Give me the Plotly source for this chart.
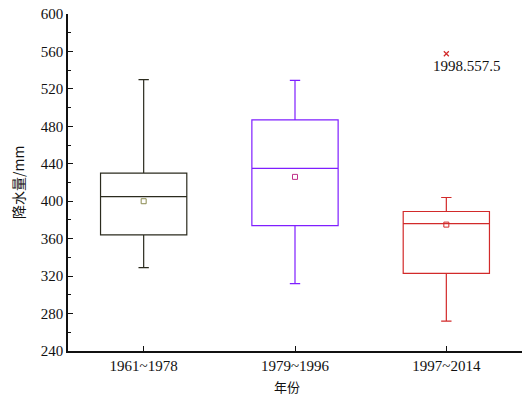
import plotly.graph_objects as go

categories = ["1961~1978", "1979~1996", "1997~2014"]
lower_whisker = [329, 312, 272]
q1_values = [364, 374, 323]
median_values = [405, 435, 376]
q3_values = [430, 487, 389]
upper_whisker = [530, 529, 404]
mean_values = [400, 426, 375]
outlier_category = ["1997~2014"]
outlier_values = [557.5]
outlier_label = "1998.557.5"

box_colors = ["#2b2b1e", "#7f1fff", "#d22a2a"]
mean_colors = ["#8a8a50", "#c0308a", "#d22a2a"]

serif = "Liberation Serif"
cjk = "Noto Sans CJK SC"

# page body has a default 8px margin, so the figure is placed at (8, 8)
fig = go.Figure()
for i, cat in enumerate(categories):
    fig.add_trace(go.Box(
        x=[cat], q1=[q1_values[i]], median=[median_values[i]], q3=[q3_values[i]],
        lowerfence=[lower_whisker[i]], upperfence=[upper_whisker[i]],
        width=0.57, whiskerwidth=0.12,
        fillcolor="rgba(0,0,0,0)",
        line=dict(color=box_colors[i], width=1.2),
        boxpoints=False, showlegend=False, hoverinfo="skip",
    ))
    fig.add_trace(go.Scatter(
        x=[cat], y=[mean_values[i]], mode="markers",
        marker=dict(symbol="square-open", size=5, color=mean_colors[i], line=dict(width=1)),
        showlegend=False, hoverinfo="skip",
    ))

fig.add_trace(go.Scatter(
    x=outlier_category, y=outlier_values, mode="markers",
    marker=dict(symbol="x-thin-open", size=5, color="#d22a2a", line=dict(width=1.2, color="#d22a2a")),
    showlegend=False, hoverinfo="skip",
))
fig.add_annotation(
    x=outlier_category[0], y=outlier_values[0], text=outlier_label,
    showarrow=False, xanchor="left", yanchor="middle", xshift=-15, yshift=-12,
    font=dict(family=serif, size=15, color="#111111"),
)
fig.add_annotation(
    xref="paper", yref="paper", x=(287 - 68) / 454, y=-(386 - 351) / 337,
    text="年份", showarrow=False, xanchor="center", yanchor="middle",
    font=dict(family=cjk, size=13, color="#111111"),
)
fig.add_annotation(
    xref="paper", yref="paper", x=-(68 - 18) / 454, y=(351 - 183) / 337,
    text="降水量/mm", showarrow=False, xanchor="center", yanchor="middle",
    textangle=-90, font=dict(family=cjk, size=14, color="#111111"),
)

fig.update_layout(
    width=524, height=387,
    margin=dict(l=60, r=10, t=6, b=44, autoexpand=False),
    paper_bgcolor="white", plot_bgcolor="white",
    boxmode="overlay",
    font=dict(family=serif, size=15, color="#111111"),
)
fig.update_xaxes(
    type="category", categoryorder="array", categoryarray=categories,
    range=[-0.5, 2.5], automargin=False, ticklabeloverflow="allow",
    showline=True, linecolor="#111111", linewidth=1.5,
    ticks="inside", ticklen=5, tickcolor="#111111", tickwidth=1.2,
    showgrid=False, zeroline=False,
    tickfont=dict(family=serif, size=15),
)
fig.update_yaxes(
    range=[240, 600], dtick=40, tick0=240, automargin=False, ticklabeloverflow="allow",
    showline=True, linecolor="#111111", linewidth=1.5,
    ticks="inside", ticklen=5, tickcolor="#111111", tickwidth=1.2,
    minor=dict(ticks="inside", ticklen=3, dtick=20, tickcolor="#111111"),
    showgrid=False, zeroline=False,
    tickfont=dict(family=serif, size=15),
)

fig.write_html("out.html")
